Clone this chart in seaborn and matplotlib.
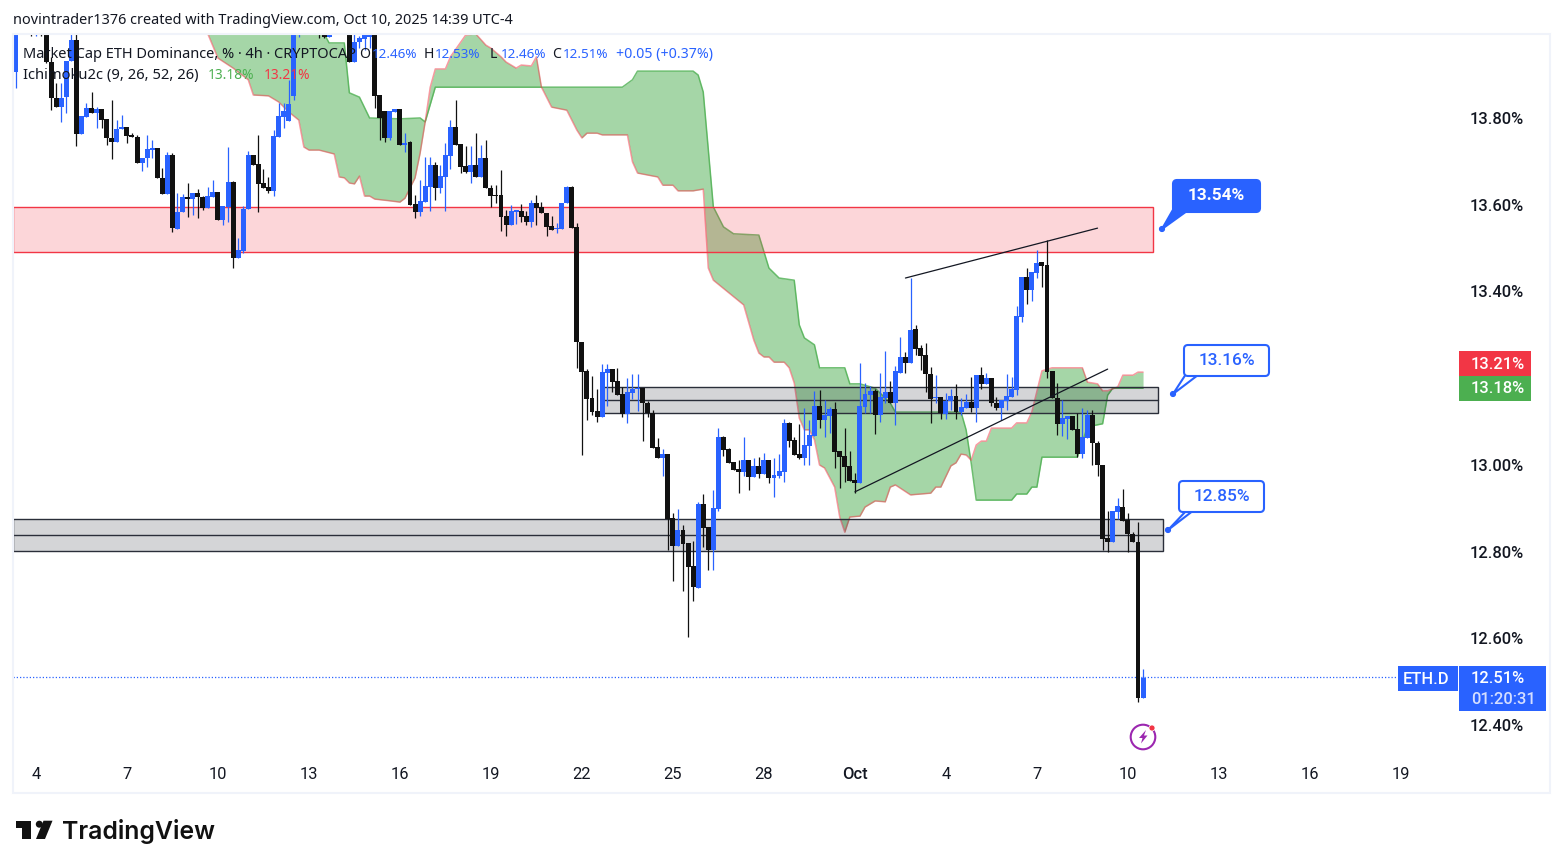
import numpy as np
import pandas as pd
import matplotlib.pyplot as plt
import seaborn as sns
from matplotlib.patches import Circle, FancyBboxPatch, Polygon, Rectangle
from matplotlib.transforms import Affine2D

WIDTH, HEIGHT = 1563, 868

# candles, one per 4h bar (the ones above the top edge are guesses)
opens = [
    13.906, 14.06, 14.03, 14.07, 14.03, 14.05, 14.02, 13.929, 13.846, 13.825,
    13.848, 13.931, 13.980, 13.763, 13.802, 13.823, 13.811, 13.821, 13.798, 13.754,
    13.745, 13.775, 13.779, 13.761, 13.756, 13.696, 13.708, 13.726, 13.731, 13.662,
    13.625, 13.715, 13.544, 13.583, 13.618, 13.613, 13.627, 13.618, 13.592, 13.618,
    13.629, 13.565, 13.595, 13.652, 13.477, 13.493, 13.590, 13.715, 13.694, 13.650,
    13.641, 13.632, 13.756, 13.802, 13.793, 13.851, 14.02, 14.06, 14.04, 14.02,
    14.05, 14.01, 13.987, 14.01, 14.00, 14.03, 14.01, 13.929, 13.975, 13.982,
    13.987, 14.01, 13.853, 13.816, 13.754, 13.814, 13.821, 13.738, 13.745, 13.602,
    13.583, 13.606, 13.641, 13.692, 13.639, 13.664, 13.712, 13.779, 13.740, 13.689,
    13.675, 13.692, 13.664, 13.708, 13.639, 13.622, 13.622, 13.574, 13.553, 13.583,
    13.586, 13.574, 13.560, 13.604, 13.595, 13.581, 13.551, 13.544, 13.544, 13.604,
    13.641, 13.549, 13.283, 13.217, 13.154, 13.124, 13.111, 13.212, 13.221, 13.194,
    13.164, 13.117, 13.166, 13.175, 13.177, 13.143, 13.120, 13.041, 13.016, 13.025,
    12.878, 12.813, 12.850, 12.820, 12.767, 12.716, 12.910, 12.857, 12.804, 12.899,
    13.065, 13.037, 13.007, 12.991, 12.984, 13.011, 12.972, 12.998, 12.979, 13.011,
    12.970, 12.975, 12.984, 13.097, 13.058, 13.025, 13.016, 13.044, 13.067, 13.136,
    13.104, 13.113, 13.129, 13.032, 13.021, 12.998, 12.965, 12.958, 13.134, 13.161,
    13.171, 13.115, 13.154, 13.168, 13.143, 13.212, 13.249, 13.235, 13.313, 13.270,
    13.254, 13.210, 13.154, 13.157, 13.117, 13.147, 13.159, 13.122, 13.131, 13.145,
    13.131, 13.207, 13.187, 13.201, 13.143, 13.131, 13.147, 13.157, 13.173, 13.341,
    13.433, 13.403, 13.443, 13.468, 13.461, 13.217, 13.154, 13.094, 13.106, 13.113,
    13.083, 13.025, 13.062, 13.115, 13.051, 13.000, 12.831, 12.822, 12.892, 12.903,
    12.873, 12.841, 12.822, 12.463,
]
highs = [
    14.02, 14.08, 14.08, 14.09, 14.07, 14.07, 14.04, 13.94, 13.881, 13.881,
    13.931, 14.00, 13.994, 13.805, 13.835, 13.860, 13.825, 13.821, 13.798, 13.841,
    13.795, 13.807, 13.779, 13.765, 13.761, 13.708, 13.761, 13.749, 13.731, 13.685,
    13.722, 13.719, 13.627, 13.625, 13.650, 13.627, 13.636, 13.62, 13.641, 13.657,
    13.629, 13.597, 13.733, 13.655, 13.523, 13.597, 13.724, 13.715, 13.761, 13.682,
    13.664, 13.772, 13.835, 13.835, 13.888, 14.03, 14.08, 14.09, 14.07, 14.08,
    14.07, 14.03, 14.03, 14.04, 14.05, 14.05, 14.04, 13.994, 13.99, 14.00,
    14.03, 14.04, 13.853, 13.816, 13.816, 13.821, 13.821, 13.765, 13.747, 13.622,
    13.657, 13.710, 13.710, 13.699, 13.692, 13.742, 13.795, 13.841, 13.740, 13.735,
    13.735, 13.765, 13.738, 13.749, 13.645, 13.645, 13.680, 13.588, 13.599, 13.588,
    13.602, 13.586, 13.611, 13.622, 13.606, 13.581, 13.574, 13.558, 13.604, 13.643,
    13.643, 13.558, 13.283, 13.221, 13.205, 13.175, 13.233, 13.233, 13.221, 13.224,
    13.180, 13.200, 13.210, 13.210, 13.177, 13.147, 13.127, 13.062, 13.037, 13.025,
    12.889, 12.898, 12.862, 12.820, 12.825, 12.915, 12.933, 12.857, 12.942, 13.085,
    13.067, 13.039, 13.007, 13.011, 13.065, 13.011, 13.016, 13.018, 13.028, 13.011,
    13.016, 13.025, 13.106, 13.099, 13.065, 13.095, 13.131, 13.104, 13.171, 13.173,
    13.150, 13.134, 13.145, 13.032, 13.085, 13.032, 12.981, 13.235, 13.189, 13.182,
    13.175, 13.212, 13.263, 13.194, 13.228, 13.295, 13.260, 13.431, 13.323, 13.277,
    13.281, 13.226, 13.207, 13.157, 13.166, 13.175, 13.187, 13.154, 13.164, 13.203,
    13.207, 13.226, 13.212, 13.201, 13.157, 13.150, 13.210, 13.203, 13.366, 13.433,
    13.454, 13.445, 13.496, 13.468, 13.519, 13.217, 13.189, 13.150, 13.113, 13.113,
    13.120, 13.131, 13.127, 13.127, 13.055, 13.000, 12.894, 12.894, 12.924, 12.945,
    12.889, 12.846, 12.869, 12.530,
]
lows = [
    13.869, 14.02, 14.01, 13.989, 13.989, 13.989, 13.927, 13.818, 13.825, 13.791,
    13.811, 13.931, 13.735, 13.763, 13.802, 13.811, 13.777, 13.777, 13.738, 13.705,
    13.745, 13.775, 13.742, 13.756, 13.696, 13.678, 13.687, 13.708, 13.662, 13.625,
    13.625, 13.537, 13.544, 13.583, 13.572, 13.576, 13.569, 13.588, 13.592, 13.618,
    13.565, 13.553, 13.560, 13.454, 13.477, 13.489, 13.590, 13.692, 13.583, 13.639,
    13.627, 13.620, 13.756, 13.777, 13.793, 13.841, 13.987, 14.01, 14.01, 14.01,
    13.984, 13.984, 13.987, 14.00, 13.997, 14.00, 13.929, 13.929, 13.961, 13.957,
    13.961, 13.823, 13.749, 13.745, 13.749, 13.814, 13.738, 13.722, 13.599, 13.569,
    13.574, 13.606, 13.586, 13.611, 13.627, 13.586, 13.682, 13.738, 13.673, 13.673,
    13.650, 13.664, 13.664, 13.639, 13.595, 13.604, 13.539, 13.528, 13.553, 13.556,
    13.560, 13.553, 13.549, 13.553, 13.581, 13.528, 13.542, 13.535, 13.544, 13.604,
    13.546, 13.224, 13.023, 13.104, 13.115, 13.099, 13.111, 13.136, 13.168, 13.161,
    13.111, 13.097, 13.152, 13.124, 13.055, 13.111, 13.039, 13.016, 12.975, 12.804,
    12.732, 12.813, 12.709, 12.603, 12.686, 12.716, 12.811, 12.758, 12.758, 12.894,
    13.021, 13.005, 12.988, 12.935, 12.975, 12.942, 12.972, 12.970, 12.979, 12.958,
    12.926, 12.970, 12.961, 13.041, 13.023, 13.014, 13.000, 13.000, 13.067, 13.085,
    13.065, 13.074, 12.993, 12.947, 12.961, 12.963, 12.935, 12.958, 13.120, 13.120,
    13.071, 13.099, 13.143, 13.143, 13.092, 13.212, 13.212, 13.235, 13.254, 13.219,
    13.168, 13.097, 13.143, 13.106, 13.106, 13.127, 13.106, 13.115, 13.131, 13.122,
    13.099, 13.175, 13.187, 13.136, 13.127, 13.104, 13.127, 13.157, 13.161, 13.330,
    13.371, 13.378, 13.431, 13.410, 13.201, 13.154, 13.069, 13.067, 13.060, 13.081,
    13.018, 13.016, 13.062, 13.000, 12.975, 12.804, 12.800, 12.822, 12.875, 12.871,
    12.800, 12.822, 12.454, 12.463,
]
closes = [
    14.00, 14.03, 14.07, 14.03, 14.05, 14.02, 13.929, 13.846, 13.825, 13.846,
    13.931, 13.980, 13.763, 13.805, 13.823, 13.811, 13.821, 13.795, 13.754, 13.745,
    13.775, 13.779, 13.758, 13.756, 13.696, 13.708, 13.728, 13.731, 13.662, 13.625,
    13.715, 13.546, 13.583, 13.618, 13.613, 13.627, 13.618, 13.592, 13.620, 13.629,
    13.565, 13.597, 13.652, 13.477, 13.496, 13.590, 13.715, 13.692, 13.648, 13.639,
    13.632, 13.758, 13.805, 13.816, 13.832, 14.02, 14.06, 14.04, 14.02, 14.05,
    14.01, 13.987, 14.01, 14.00, 14.03, 14.01, 13.929, 13.975, 13.984, 13.994,
    14.01, 13.851, 13.800, 13.754, 13.816, 13.821, 13.738, 13.742, 13.599, 13.583,
    13.609, 13.643, 13.692, 13.639, 13.666, 13.715, 13.779, 13.738, 13.687, 13.675,
    13.692, 13.664, 13.708, 13.639, 13.620, 13.620, 13.572, 13.553, 13.586, 13.588,
    13.572, 13.560, 13.604, 13.592, 13.581, 13.549, 13.542, 13.546, 13.604, 13.641,
    13.546, 13.283, 13.214, 13.152, 13.122, 13.111, 13.214, 13.221, 13.191, 13.161,
    13.117, 13.168, 13.175, 13.177, 13.143, 13.120, 13.039, 13.016, 13.025, 12.875,
    12.813, 12.850, 12.818, 12.765, 12.719, 12.910, 12.855, 12.804, 12.901, 13.065,
    13.035, 13.005, 12.988, 12.984, 13.011, 12.972, 12.998, 12.979, 13.011, 12.970,
    12.977, 12.986, 13.097, 13.055, 13.023, 13.016, 13.046, 13.069, 13.136, 13.104,
    13.115, 13.129, 13.030, 13.018, 12.995, 12.963, 12.958, 13.136, 13.164, 13.171,
    13.115, 13.157, 13.168, 13.143, 13.217, 13.249, 13.235, 13.311, 13.267, 13.251,
    13.210, 13.152, 13.157, 13.120, 13.147, 13.159, 13.122, 13.134, 13.145, 13.131,
    13.207, 13.187, 13.201, 13.143, 13.131, 13.150, 13.159, 13.175, 13.343, 13.433,
    13.403, 13.445, 13.466, 13.459, 13.214, 13.154, 13.094, 13.108, 13.113, 13.081,
    13.025, 13.065, 13.115, 13.051, 13.000, 12.829, 12.822, 12.894, 12.905, 12.871,
    12.841, 12.822, 12.463, 12.509,
]

# ichimoku spans, corner points only
span_a_bars = [
    36, 61, 62, 65, 66, 68, 70, 76, 80, 81, 83, 120, 122, 123, 134, 135, 136, 138,
    140, 142, 147, 149, 151, 154, 155, 156, 158, 159, 164, 165, 167, 170, 173, 174,
    187, 188, 189, 190, 197, 198, 200, 201, 202, 203, 210, 212, 215, 216, 217, 223,
]
span_a = [
    14.30, 13.994, 13.973, 13.973, 13.858, 13.848, 13.800, 13.798, 13.800, 13.791,
    13.871, 13.871, 13.888, 13.908, 13.908, 13.899, 13.860, 13.595, 13.549, 13.533,
    13.530, 13.454, 13.431, 13.426, 13.323, 13.293, 13.277, 13.224, 13.224, 13.187,
    13.187, 13.177, 13.143, 13.122, 13.122, 13.081, 13.005, 12.919, 12.919, 12.933,
    12.933, 12.949, 12.949, 13.018, 13.018, 13.088, 13.095, 13.161, 13.177, 13.177,
]
span_b_bars = [
    36, 38, 40, 43, 46, 47, 50, 52, 54, 56, 57, 58, 60, 63, 64, 65, 66, 67, 68, 69,
    70, 71, 74, 76, 77, 79, 80, 81, 82, 83, 85, 86, 89, 91, 93, 94, 96, 97, 99, 100,
    102, 103, 104, 106, 109, 111, 112, 113, 115, 116, 121, 122, 123, 127, 128, 130,
    131, 134, 136, 137, 138, 144, 146, 147, 148, 149, 150, 152, 153, 154, 155, 156,
    157, 158, 159, 160, 162, 163, 164, 165, 167, 168, 170, 172, 173, 174, 177, 181,
    182, 183, 185, 186, 187, 188, 189, 190, 191, 192, 193, 197, 198, 200, 201, 203,
    205, 211, 212, 214, 215, 216, 218, 219, 221, 222, 223,
]
span_b = [
    14.04, 13.994, 13.938, 13.915, 13.888, 13.853, 13.851, 13.837, 13.814, 13.795,
    13.733, 13.726, 13.726, 13.717, 13.664, 13.662, 13.650, 13.648, 13.666, 13.620,
    13.620, 13.613, 13.609, 13.606, 13.615, 13.662, 13.719, 13.791, 13.871, 13.913,
    13.913, 13.941, 13.991, 13.994, 13.968, 13.961, 13.941, 13.929, 13.915, 13.922,
    13.920, 13.941, 13.871, 13.825, 13.818, 13.772, 13.754, 13.765, 13.765, 13.761,
    13.761, 13.699, 13.673, 13.664, 13.645, 13.645, 13.632, 13.632, 13.636, 13.454,
    13.426, 13.369, 13.288, 13.258, 13.249, 13.249, 13.237, 13.237, 13.224, 13.189,
    13.108, 13.081, 13.081, 13.058, 13.000, 12.993, 12.949, 12.880, 12.845, 12.880,
    12.882, 12.903, 12.917, 12.915, 12.949, 12.954, 12.931, 12.935, 12.949, 12.949,
    12.998, 13.005, 13.025, 13.023, 13.011, 13.046, 13.055, 13.055, 13.085, 13.085,
    13.097, 13.097, 13.122, 13.217, 13.224, 13.224, 13.191, 13.187, 13.171, 13.171,
    13.180, 13.207, 13.207, 13.214, 13.214,
]

# drawn zones: first bar, last bar, bottom, (middle,) top
pink_zone = [-1, 225, 13.491, 13.595]
grey_zone_upper = [116, 226, 13.120, 13.150, 13.180]
grey_zone_lower = [-1, 227, 12.802, 12.839, 12.875]

# trend lines
wedge_top_bars, wedge_top = [176, 214], [13.431, 13.546]
wedge_low_bars, wedge_low = [166, 216], [12.938, 13.221]

price_ticks = [12.40, 12.60, 12.80, 13.00, 13.40, 13.60, 13.80]
date_ticks = [4, 22, 40, 58, 76, 94, 112, 130, 148, 166, 184, 202, 220, 238, 256, 274]
date_labels = ['4', '7', '10', '13', '16', '19', '22', '25', '28', 'Oct', '4', '7', '10', '13', '16', '19']
last_price = 12.51

BLUE = '#2962ff'
CANDLE_BLACK = '#111111'
INK = '#131722'
GREEN = '#4caf50'
RED = '#f23645'

sns.set_theme(style='white')
plt.rcParams['font.family'] = ['Noto Sans', 'DejaVu Sans']

fig = plt.figure(figsize=(WIDTH / 100, HEIGHT / 100), dpi=100, facecolor='white')
# image pixels, y going down, for everything that lives outside the price scale
px = Affine2D().scale(1 / WIDTH, -1 / HEIGHT).translate(0, 1) + fig.transFigure

ax = fig.add_axes([13 / WIDTH, 1 - 757 / HEIGHT, (1458 - 13) / WIDTH, (757 - 34) / HEIGHT])
ax.set_xlim(-0.534, 285.3)
ax.set_ylim(12.3267, 13.9936)
sns.despine(ax=ax, left=True, bottom=True, right=True, top=True)


# ------------------------------------------------------------------------------
def draw_cloud():
    grid = np.arange(span_a_bars[0], span_a_bars[-1] + 1)
    ax.fill_between(grid, np.interp(grid, span_a_bars, span_a),
                    np.interp(grid, span_b_bars, span_b),
                    color=GREEN, alpha=0.5, linewidth=0, zorder=1)
    sns.lineplot(x=span_a_bars, y=span_a, ax=ax, color=GREEN, alpha=0.8,
                 linewidth=1.1, estimator=None, errorbar=None, zorder=2)
    sns.lineplot(x=span_b_bars, y=span_b, ax=ax, color=RED, alpha=0.5,
                 linewidth=1.1, estimator=None, errorbar=None, zorder=2)


# ------------------------------------------------------------------------------
def draw_zones():
    x_min = ax.get_xlim()[0]
    start, end, bottom, top = pink_zone
    start = max(start, x_min)
    ax.add_patch(Rectangle((start, bottom), end - start, top - bottom,
                           facecolor=(0.949, 0.212, 0.271, 0.2),
                           edgecolor=RED, linewidth=1, zorder=3))
    for start, end, bottom, middle, top in (grey_zone_upper, grey_zone_lower):
        start = max(start, x_min)
        ax.add_patch(Rectangle((start, bottom), end - start, top - bottom,
                               facecolor=(0.075, 0.09, 0.133, 0.18),
                               edgecolor='#2a2e39', linewidth=1, zorder=3))
        ax.plot([start, end], [middle, middle], color='#2a2e39', lw=1, zorder=3)


# ------------------------------------------------------------------------------
def draw_candles():
    candles = pd.DataFrame({'open': opens, 'high': highs, 'low': lows, 'close': closes})
    candles['bar'] = candles.index
    candles['up'] = candles['close'] >= candles['open']
    for is_up, part in candles.groupby('up'):
        color = BLUE if is_up else CANDLE_BLACK
        ax.vlines(part['bar'], part['low'], part['high'], color=color, lw=0.9, zorder=4)
        ax.bar(part['bar'], (part['close'] - part['open']).abs(),
               bottom=part[['open', 'close']].min(axis=1), width=0.98,
               color=color, linewidth=0, zorder=5)


# ------------------------------------------------------------------------------
def draw_callout(label, box, tail, tip, filled=False):
    left, top, right, bottom = box
    face = BLUE if filled else 'white'
    fig.add_artist(Polygon(tail + [tip], closed=True, transform=px, facecolor=face,
                           edgecolor=BLUE, linewidth=1.5, zorder=5))
    fig.add_artist(FancyBboxPatch((left + 3, top + 3), right - left - 6, bottom - top - 6,
                                  boxstyle='round,pad=3,rounding_size=4', transform=px,
                                  facecolor=face, edgecolor=BLUE, linewidth=1.5, zorder=6))
    fig.add_artist(Circle(tip, 2.4, transform=px, color=BLUE, zorder=7))
    fig.text((left + right) / 2 / WIDTH, 1 - ((top + bottom) / 2) / HEIGHT, label,
             color='white' if filled else BLUE, fontsize=12.4, family='Roboto',
             fontweight='bold' if filled else 'medium', ha='center', va='center', zorder=8)


# ------------------------------------------------------------------------------
def draw_tag(box, color):
    left, top, right, bottom = box
    fig.add_artist(Rectangle((left, top), right - left, bottom - top, transform=px,
                             facecolor=color, edgecolor='none', zorder=5))


# ------------------------------------------------------------------------------
def label(x, y, text, color=INK, size=10.1, **kwargs):
    fig.text(x / WIDTH, 1 - y / HEIGHT, text, color=color, fontsize=size, va='center', zorder=9, **kwargs)


def scale_label(x, y, text, color='white'):
    label(x, y, text, color=color, size=11.9, family='Roboto', fontweight='medium')


draw_cloud()
draw_zones()
draw_candles()
sns.lineplot(x=wedge_top_bars, y=wedge_top, ax=ax, color=INK, linewidth=0.9, estimator=None, errorbar=None, zorder=6)
sns.lineplot(x=wedge_low_bars, y=wedge_low, ax=ax, color=INK, linewidth=0.9, estimator=None, errorbar=None, zorder=6)
ax.axhline(last_price, color=BLUE, lw=0.9, ls=(0, (1, 1.6)), zorder=3)

ax.yaxis.tick_right()
ax.set_yticks(price_ticks)
ax.set_yticklabels(['%.2f%%' % p for p in price_ticks], family='Roboto', fontweight='medium')
ax.set_xticks(date_ticks)
ax.set_xticklabels(date_labels, family='Roboto')
ax.tick_params(axis='y', length=0, pad=8.5, labelsize=11.9, labelcolor=INK)
ax.tick_params(axis='x', length=0, pad=7, labelsize=11.9, labelcolor=INK)
ax.get_xticklabels()[9].set_fontweight('medium')

# chart frame
fig.add_artist(Rectangle((13, 34), 1550 - 13, 793 - 34, transform=px, facecolor='none',
                         edgecolor='#f0f3fa', linewidth=1.5, zorder=1))

# top header and legend
label(13, 20.5, 'novintrader1376 created with TradingView.com, Oct 10, 2025 14:39 UTC-4', size=10.4)
label(23, 54.5, 'Market Cap ETH Dominance, % · 4h · CRYPTOCAP', size=10.5)
label(359, 54.5, 'O')
for x, head, value in [(372, '', '12.46%'), (424, 'H', '12.53%'), (490, 'L', '12.46%'), (552, 'C', '12.51%')]:
    if head:
        label(x, 54.5, head)
    label(x + 11 if head else x, 54.5, value, color=BLUE, size=9.7)
label(616, 54.5, '+0.05 (+0.37%)', color=BLUE, size=10.2)
label(23, 75.5, 'Ichimoku2c (9, 26, 52, 26)', size=10.6)
label(208, 75.5, '13.18%', color=GREEN, size=9.9)
label(264, 75.5, '13.21%', color=RED, size=9.9)

# callouts
draw_callout('13.54%', (1173, 180, 1260, 212), [(1174, 208), (1187, 211)], (1162, 229), filled=True)
draw_callout('13.16%', (1184, 345, 1269, 376), [(1186, 374), (1198, 375)], (1173, 394))
draw_callout('12.85%', (1179, 481, 1264, 512), [(1187, 510), (1194, 510)], (1168, 530))

# price scale tags
draw_tag((1459, 351, 1531, 376), RED)
draw_tag((1459, 376, 1531, 401), GREEN)
draw_tag((1459, 666, 1546, 711), BLUE)
draw_tag((1398, 666, 1458, 691), BLUE)
scale_label(1471, 364, '13.21%')
scale_label(1471, 389, '13.18%')
scale_label(1471, 678.5, '12.51%')
scale_label(1471, 699, '01:20:31', color='#d4deff')
scale_label(1403, 679, 'ETH.D')

# alert icon
fig.add_artist(Circle((1143, 737), 12.3, transform=px, facecolor='white', edgecolor='#9c27b0', linewidth=1.5, zorder=5))
fig.add_artist(Polygon([(1146, 730), (1139, 738), (1142.5, 738), (1141, 743.5), (1147.5, 735.5), (1144, 735.5)],
                       closed=True, transform=px, facecolor='#9c27b0', edgecolor='none', zorder=6))
fig.add_artist(Circle((1152, 728), 3, transform=px, facecolor=RED, edgecolor='white', linewidth=0.5, zorder=7))

# logo
fig.add_artist(Polygon([(15.7, 820.7), (31, 820.7), (31, 839), (21.7, 839), (21.7, 827.5), (15.7, 827.5)],
                       closed=True, transform=px, facecolor=CANDLE_BLACK, edgecolor='none'))
fig.add_artist(Circle((39.3, 824.2), 3.5, transform=px, facecolor=CANDLE_BLACK, edgecolor='none'))
fig.add_artist(Polygon([(52.5, 820.7), (45, 839), (36, 839), (43.5, 820.7)],
                       closed=True, transform=px, facecolor=CANDLE_BLACK, edgecolor='none'))
fig.text(61.5 / WIDTH, 1 - 831 / HEIGHT, 'TradingView', color=CANDLE_BLACK, fontsize=17.9,
         family='Inter', fontweight='semibold', va='center')

fig.savefig('out.png', dpi=100, facecolor='white')
